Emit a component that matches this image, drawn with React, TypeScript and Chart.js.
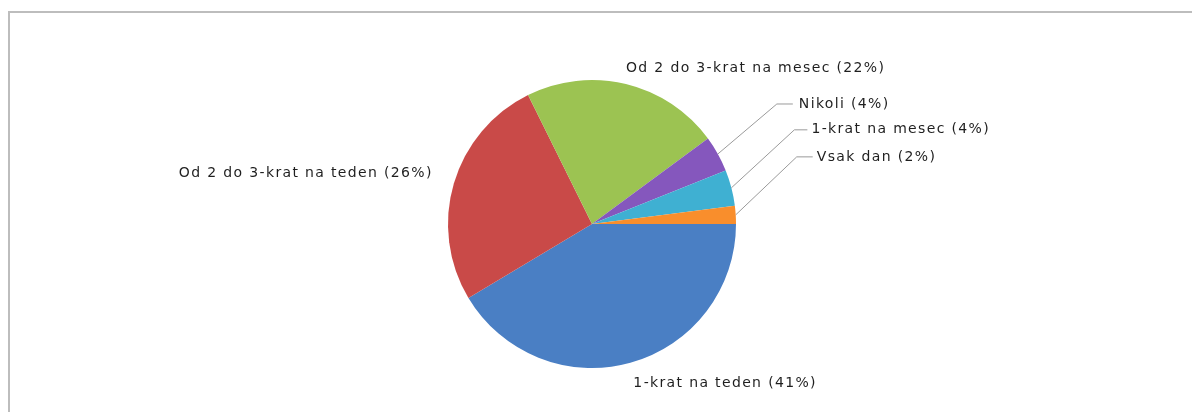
import React, { useEffect, useRef } from "react";
import { Chart, registerables } from "chart.js";

Chart.register(...registerables);

const categories = [
  "1-krat na teden",
  "Od 2 do 3-krat na teden",
  "Od 2 do 3-krat na mesec",
  "Nikoli",
  "1-krat na mesec",
  "Vsak dan",
];
const percents = [41, 26, 22, 4, 4, 2];
const sliceColors = ["#4a7fc4", "#c94a48", "#9cc352", "#8557bd", "#3fb0d2", "#f98e2c"];

// label placement relative to the slice's outer mid-point (style only)
const labelLayout = [
  { leader: false, dx: 3, dy: 21, align: "left" },
  { leader: false, dx: -21, dy: -10, align: "right" },
  { leader: false, dx: 0, dy: -16, align: "left" },
  { leader: true, dx: 59, dy: -50, hx: 16, gap: 6 },
  { leader: true, dx: 63, dy: -58, hx: 13, gap: 4 },
  { leader: true, dx: 61, dy: -58, hx: 16, gap: 4 },
];

const labelPlugin = {
  id: "pieLabels",
  afterDatasetsDraw(chart: any) {
    const ctx = chart.ctx as CanvasRenderingContext2D;
    const meta = chart.getDatasetMeta(0);
    ctx.save();
    ctx.font = "14px 'DejaVu Sans'";
    (ctx as any).letterSpacing = "1.35px";
    ctx.fillStyle = "#1f1f1f";
    ctx.textBaseline = "middle";
    meta.data.forEach((arc: any, i: number) => {
      const p = arc.getProps(["x", "y", "startAngle", "endAngle", "outerRadius"], true);
      const mid = (p.startAngle + p.endAngle) / 2;
      const ax = p.x + Math.cos(mid) * p.outerRadius;
      const ay = p.y + Math.sin(mid) * p.outerRadius;
      const text = `${categories[i]} (${percents[i]}%)`;
      const L: any = labelLayout[i];
      if (L.leader) {
        const ex = ax + L.dx;
        const ey = ay + L.dy;
        ctx.strokeStyle = "#9a9a9a";
        ctx.lineWidth = 1;
        ctx.beginPath();
        ctx.moveTo(ax, ay);
        ctx.lineTo(ex, ey);
        ctx.lineTo(ex + L.hx, ey);
        ctx.stroke();
        ctx.textAlign = "left";
        ctx.fillText(text, ex + L.hx + L.gap, ey);
      } else {
        ctx.textAlign = L.align;
        ctx.fillText(text, ax + L.dx, ay + L.dy);
      }
    });
    ctx.restore();
  },
};

export default function App() {
  const ref = useRef<HTMLCanvasElement>(null);
  useEffect(() => {
    if (!ref.current) return;
    const chart = new Chart(ref.current, {
      type: "pie",
      data: {
        labels: categories,
        datasets: [
          {
            data: percents,
            backgroundColor: sliceColors,
            borderWidth: 0,
          },
        ],
      },
      options: {
        responsive: false,
        maintainAspectRatio: false,
        animation: false,
        rotation: 90,
        layout: { padding: { left: 448, right: 456, top: 80, bottom: 44 } },
        plugins: {
          legend: { display: false },
          tooltip: { enabled: false },
        },
      },
      plugins: [labelPlugin],
    });
    return () => chart.destroy();
  }, []);
  return (
    <div>
      <div
        style={{
          position: "fixed",
          left: 8,
          top: 11,
          width: 1300,
          height: 500,
          borderLeft: "2px solid #bdbdbd",
          borderTop: "2px solid #bdbdbd",
        }}
      />
      <canvas
        ref={ref}
        width={1192}
        height={412}
        style={{ position: "fixed", left: 0, top: 0, width: 1192, height: 412 }}
      />
    </div>
  );
}
